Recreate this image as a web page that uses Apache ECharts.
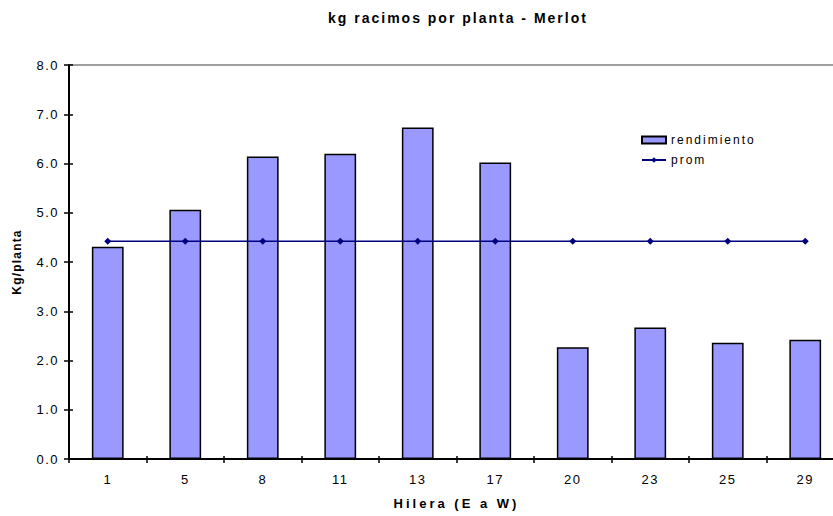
<!DOCTYPE html>
<html>
<head>
<meta charset="utf-8">
<script src="https://cdn.jsdelivr.net/npm/echarts@6/dist/echarts.min.js"></script>
<style>
html,body{margin:0;padding:0;background:#fff;overflow:hidden;}
#chart{width:833px;height:516px;}
#chart svg text{letter-spacing:1.5px;}
</style>
</head>
<body>
<div id="chart"></div>
<script>
const categories = ['1','5','8','11','13','17','20','23','25','29'];
const rendimiento = [4.31, 5.06, 6.14, 6.20, 6.73, 6.02, 2.27, 2.67, 2.36, 2.42];
const prom = [4.42, 4.42, 4.42, 4.42, 4.42, 4.42, 4.42, 4.42, 4.42, 4.42];
const yTicks = { min: 0, max: 8, interval: 1 };

const TITLE = 'kg racimos por planta - Merlot';
const XNAME = 'Hilera (E a W)';
const YNAME = 'Kg/planta';

const FONT = '"Liberation Sans", Arial, sans-serif';
const chart = echarts.init(document.getElementById('chart'), null, { renderer: 'svg' });

const baseX = {
  type: 'category',
  data: categories,
  boundaryGap: true,
  axisLine: { show: true, lineStyle: { color: '#000', width: 2 } },
  splitLine: { show: false }
};
const baseY = {
  type: 'value',
  min: yTicks.min, max: yTicks.max, interval: yTicks.interval,
  position: 'left',
  axisLine: { show: true, lineStyle: { color: '#000', width: 2 } },
  splitLine: { show: false }
};

function spaceText() {
  const spacing = {};
  spacing[TITLE] = '2px';
  spacing[XNAME] = '3px';
  spacing[YNAME] = '1.2px';
  spacing['rendimiento'] = '2px';
  spacing['prom'] = '2px';
  document.querySelectorAll('#chart svg text').forEach(t => {
    const s = spacing[t.textContent];
    if (s) t.style.letterSpacing = s;
  });
}

chart.on('finished', spaceText);

chart.setOption({
  animation: false,
  backgroundColor: '#fff',
  title: {
    text: TITLE,
    left: 328, top: 11, padding: 0,
    textStyle: { fontFamily: FONT, fontWeight: 'bold', fontSize: 14, color: '#000' }
  },
  legend: {
    orient: 'vertical',
    left: 641, top: 134, padding: 0,
    itemWidth: 24, itemHeight: 7, itemGap: 8,
    textStyle: { fontFamily: FONT, fontSize: 12, color: '#000' },
    data: [{ name: 'rendimiento', icon: 'rect' }, { name: 'prom' }]
  },
  grid: { left: 69, top: 65, height: 394, width: 775, containLabel: false, outerBoundsMode: 'none' },
  xAxis: [
    Object.assign({}, baseX, {
      position: 'bottom',
      axisTick: { show: true, inside: false, length: 4, lineStyle: { color: '#000', width: 1.5 } },
      axisLabel: { fontFamily: FONT, fontSize: 13, color: '#000', margin: 14 },
      name: XNAME, nameLocation: 'middle', nameGap: 38,
      nameTextStyle: { fontFamily: FONT, fontWeight: 'bold', fontSize: 13, color: '#000' }
    }),
    Object.assign({}, baseX, {
      position: 'bottom',
      axisTick: { show: true, inside: true, length: 3, lineStyle: { color: '#000', width: 1.5 } },
      axisLabel: { show: false }
    }),
    Object.assign({}, baseX, {
      position: 'top',
      axisLine: { show: true, lineStyle: { color: '#808080', width: 1.5 } },
      axisTick: { show: false },
      axisLabel: { show: false }
    })
  ],
  yAxis: [
    Object.assign({}, baseY, {
      axisTick: { show: true, inside: false, length: 5, lineStyle: { color: '#000', width: 1.5 } },
      axisLabel: { fontFamily: FONT, fontSize: 13, color: '#000', margin: 10,
        formatter: v => v.toFixed(1) },
      name: YNAME, nameLocation: 'middle', nameGap: 46, nameRotate: 90,
      nameTextStyle: { fontFamily: FONT, fontWeight: 'bold', fontSize: 12, color: '#000' }
    }),
    Object.assign({}, baseY, {
      axisTick: { show: true, inside: true, length: 4, lineStyle: { color: '#000', width: 1.5 } },
      axisLabel: { show: false }
    })
  ],
  series: [
    {
      name: 'rendimiento', type: 'bar', xAxisIndex: 0, yAxisIndex: 0,
      data: rendimiento, barWidth: '41%',
      itemStyle: { color: '#9999FF', borderColor: '#000', borderWidth: 1.5 }
    },
    {
      name: 'prom', type: 'line', xAxisIndex: 0, yAxisIndex: 0,
      data: prom, symbol: 'diamond', symbolSize: 7, showSymbol: true,
      lineStyle: { color: '#000080', width: 1.5 },
      itemStyle: { color: '#000080' },
      z: 5
    }
  ]
});
setTimeout(spaceText, 0);
requestAnimationFrame(() => requestAnimationFrame(spaceText));
</script>
</body>
</html>
